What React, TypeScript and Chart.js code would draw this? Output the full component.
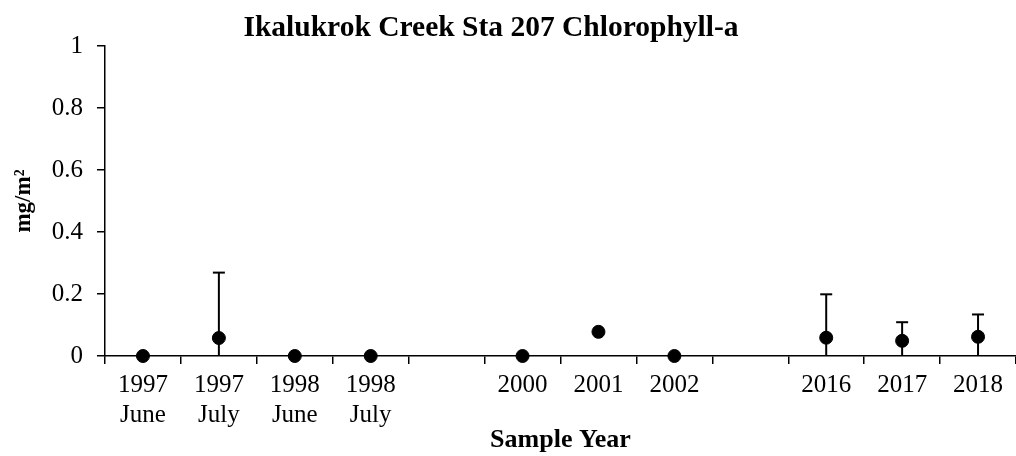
import React, { useEffect, useRef } from "react";
import { Chart, registerables } from "chart.js";

Chart.register(...registerables);

const categories: (string | string[])[] = [
  ["1997", "June"],
  ["1997", "July"],
  ["1998", "June"],
  ["1998", "July"],
  "",
  "2000",
  "2001",
  "2002",
  "",
  "2016",
  "2017",
  "2018",
];
const values: (number | null)[] = [0, 0.058, 0, 0, null, 0, 0.078, 0, null, 0.059, 0.049, 0.062];
const errors: (number | null)[] = [null, 0.211, null, null, null, null, null, null, null, 0.14, 0.06, 0.072];
const yTicks = { min: 0, max: 1, step: 0.2 };

const TITLE = "Ikalukrok Creek Sta 207 Chlorophyll-a";
const FONT = "'Liberation Serif', 'Times New Roman', serif";

const errorBarPlugin = {
  id: "errorBars",
  beforeDatasetsDraw(chart: any) {
    const { ctx, scales } = chart;
    const xs = scales.x;
    const ys = scales.y;
    ctx.save();
    ctx.strokeStyle = "#000";
    ctx.lineWidth = 2;
    values.forEach((v, i) => {
      const e = errors[i];
      if (v == null || e == null) return;
      const x = xs.getPixelForValue(i);
      const lo = Math.max(v - e, yTicks.min);
      const hi = Math.min(v + e, yTicks.max);
      const yLo = ys.getPixelForValue(lo);
      const yHi = ys.getPixelForValue(hi);
      ctx.beginPath();
      ctx.moveTo(x, yLo);
      ctx.lineTo(x, yHi);
      ctx.stroke();
      if (v + e <= yTicks.max) {
        ctx.beginPath();
        ctx.moveTo(x - 6, yHi);
        ctx.lineTo(x + 6, yHi);
        ctx.stroke();
      }
    });
    ctx.restore();
  },
};

const titlePlugin = {
  id: "customTitle",
  afterDraw(chart: any) {
    const { ctx } = chart;
    ctx.save();
    ctx.fillStyle = "#000";
    ctx.font = `bold 29.5px ${FONT}`;
    ctx.textAlign = "center";
    ctx.textBaseline = "middle";
    ctx.fillText(TITLE, 491, 28);
    ctx.restore();
  },
};

export default function App() {
  const ref = useRef<HTMLCanvasElement | null>(null);
  useEffect(() => {
    if (!ref.current) return;
    const chart = new Chart(ref.current, {
      type: "line",
      data: {
        labels: categories,
        datasets: [
          {
            data: values,
            showLine: false,
            clip: false,
            pointRadius: 6.5,
            pointHoverRadius: 6.5,
            pointBackgroundColor: "#000",
            pointBorderColor: "#000",
            borderColor: "#000",
          },
        ],
      },
      options: {
        animation: false,
        responsive: true,
        maintainAspectRatio: false,
        layout: { autoPadding: false, padding: { top: 46, right: -2, left: 0, bottom: 0 } },
        plugins: { legend: { display: false }, tooltip: { enabled: false }, title: { display: false } },
        scales: {
          x: {
            type: "category",
            offset: true,
            grid: { offset: true, drawOnChartArea: false, tickLength: 8, color: "#000", lineWidth: 1.5 },
            border: { color: "#000", width: 1.5 },
            ticks: {
              color: "#000",
              font: { family: FONT, size: 25, lineHeight: 1.2 },
              padding: 6,
              maxRotation: 0,
              autoSkip: false,
            },
            title: {
              display: true,
              text: "Sample Year",
              color: "#000",
              font: { family: FONT, size: 26, weight: "bold" },
              padding: { top: 0, bottom: 0 },
            },
            afterFit(scale: any) {
              scale.height = 100;
              scale.paddingLeft = 0;
              scale.paddingRight = 0;
            },
          },
          y: {
            min: yTicks.min,
            max: yTicks.max,
            grid: { drawOnChartArea: false, tickLength: 8, color: "#000", lineWidth: 1.5 },
            border: { color: "#000", width: 1.5 },
            ticks: {
              stepSize: yTicks.step,
              color: "#000",
              font: { family: FONT, size: 25 },
              padding: 14,
              callback: (v: any) => String(Math.round(Number(v) * 10) / 10),
            },
            title: {
              display: true,
              text: "mg/m²",
              color: "#000",
              font: { family: FONT, size: 23, weight: "bold" },
              padding: { top: 10, bottom: 0 },
            },
            afterFit(scale: any) {
              scale.width = 105;
              scale.paddingTop = 0;
              scale.paddingBottom = 0;
            },
          },
        },
      },
      plugins: [errorBarPlugin, titlePlugin],
    });
    return () => chart.destroy();
  }, []);
  return (
    <div style={{ position: "fixed", left: 0, top: 0, width: 1016, height: 456, background: "#fff" }}>
      <canvas ref={ref} />
    </div>
  );
}
